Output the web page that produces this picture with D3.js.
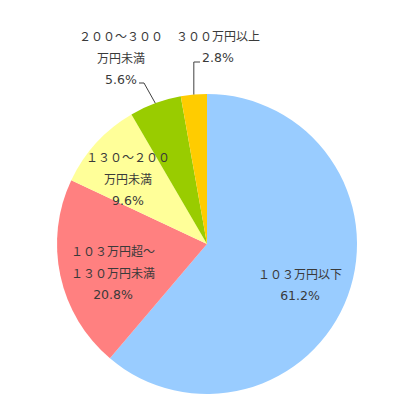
<!DOCTYPE html>
<html>
<head>
<meta charset="utf-8">
<script src="https://cdn.jsdelivr.net/npm/d3@7"></script>
<style>
  body { margin: 0; background: #fff; }
  text { font-family: "Noto Sans CJK JP", "Noto Sans", sans-serif; font-size: 12px; fill: #3a3a3a; }
  text.pct { font-family: "DejaVu Sans", sans-serif; font-size: 12.5px; }
</style>
</head>
<body>
<div id="chart"></div>
<script>
// data
var categories = [
  ["１０３万円以下"],
  ["１０３万円超～", "１３０万円未満"],
  ["１３０～２００", "万円未満"],
  ["２００～３００", "万円未満"],
  ["３００万円以上"]
];
var values = [61.2, 20.8, 9.6, 5.6, 2.8];
var colors = ["#99ccff", "#ff8080", "#ffff99", "#99cc00", "#ffcc00"];

var width = 399, height = 411;
var cx = 207, cy = 244, radius = 150;

// label block centres (top line y)
var labelPos = [
  {x: 300, y: 273},
  {x: 113, y: 250},
  {x: 128, y: 156},
  {x: 121, y: 35},
  {x: 218, y: 35}
];

var svg = d3.select("#chart")
  .append("svg")
  .attr("width", width)
  .attr("height", height);

var g = svg.append("g")
  .attr("transform", "translate(" + cx + "," + cy + ")");

var pie = d3.pie().sort(null).value(function(d){ return d; });
var arcs = pie(values);

var arc = d3.arc().innerRadius(0).outerRadius(radius);
var edgeArc = d3.arc().innerRadius(radius).outerRadius(radius);

g.selectAll("path")
  .data(arcs)
  .enter()
  .append("path")
  .attr("d", arc)
  .attr("fill", function(d, i){ return colors[i]; });

// leader lines for the two small slices
var e3 = edgeArc.centroid(arcs[3]);
var e4 = edgeArc.centroid(arcs[4]);
svg.append("path")
  .attr("d", "M" + 139 + "," + 83 + "H" + 144 + "L" + (cx + e3[0]) + "," + (cy + e3[1]))
  .attr("fill", "none").attr("stroke", "#404040").attr("stroke-width", 1);
svg.append("path")
  .attr("d", "M" + 200 + "," + 62 + "H" + (cx + e4[0]) + "V" + (cy + e4[1]))
  .attr("fill", "none").attr("stroke", "#404040").attr("stroke-width", 1);

// labels
var lineH = 22;
categories.forEach(function(lines, i){
  var p = labelPos[i];
  var t = svg.append("g");
  var all = lines.concat([values[i].toFixed(1) + "%"]);
  all.forEach(function(s, j){
    t.append("text")
      .attr("class", j == all.length - 1 ? "pct" : null)
      .attr("x", p.x)
      .attr("y", p.y + j * lineH)
      .attr("text-anchor", "middle")
      .attr("dominant-baseline", "central")
      .text(s);
  });
});
</script>
</body>
</html>
